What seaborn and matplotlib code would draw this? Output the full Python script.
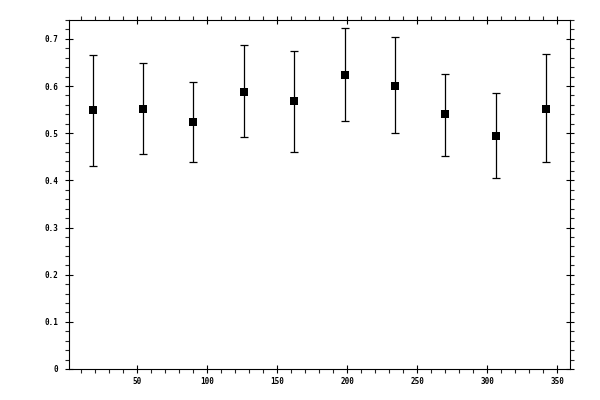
import matplotlib
matplotlib.use("Agg")
import matplotlib.pyplot as plt
from matplotlib.ticker import MultipleLocator
import seaborn as sns
import numpy as np
import pandas as pd

angle = [18, 54, 90, 126, 162, 198, 234, 270, 306, 342]
value = [0.549, 0.552, 0.523, 0.588, 0.569, 0.624, 0.601, 0.540, 0.495, 0.552]
upper = [0.665, 0.649, 0.609, 0.686, 0.675, 0.724, 0.703, 0.626, 0.586, 0.668]
lower = [0.430, 0.455, 0.438, 0.491, 0.461, 0.525, 0.501, 0.451, 0.406, 0.438]

df = pd.DataFrame({"angle": angle, "value": value})

sns.set_style("ticks")
plt.rcParams["font.family"] = ["DejaVu Sans Mono"]

fig = plt.figure(figsize=(6, 4), dpi=100)
ax = fig.add_axes([69.3 / 600, 1 - 369 / 400, (570 - 69.3) / 600, (369 - 20) / 400])

v = np.array(value)
yerr = np.vstack([v - np.array(lower), np.array(upper) - v])
ax.errorbar(angle, value, yerr=yerr, fmt="none", ecolor="black",
            elinewidth=0.9, capsize=3, capthick=0.9, zorder=2)
sns.scatterplot(data=df, x="angle", y="value", marker="s", s=30,
                color="black", linewidth=0, ax=ax, zorder=3)

ax.set_xlim(1.4, 359)
ax.set_ylim(0, 0.74)
ax.set_xlabel("")
ax.set_ylabel("")

ax.xaxis.set_major_locator(MultipleLocator(50))
ax.xaxis.set_minor_locator(MultipleLocator(10))
ax.yaxis.set_major_locator(MultipleLocator(0.1))
ax.yaxis.set_minor_locator(MultipleLocator(0.02))
ax.yaxis.set_major_formatter(matplotlib.ticker.FuncFormatter(
    lambda y, p: "0" if abs(y) < 1e-9 else f"{y:.1f}"))
ax.set_xticks([50, 100, 150, 200, 250, 300, 350])

for s in ax.spines.values():
    s.set_visible(True)
    s.set_linewidth(0.8)
    s.set_color("black")

ax.tick_params(which="major", direction="inout", length=6, width=0.8,
               top=True, right=True, labelsize=5.5, colors="black")
ax.tick_params(which="minor", direction="out", length=3, width=0.8,
               top=True, right=True)
ax.tick_params(axis="x", which="major", pad=3)
ax.tick_params(axis="y", which="major", pad=5)
for lab in ax.get_xticklabels() + ax.get_yticklabels():
    lab.set_fontweight("bold")

fig.savefig("out.png", dpi=100, facecolor="white")
